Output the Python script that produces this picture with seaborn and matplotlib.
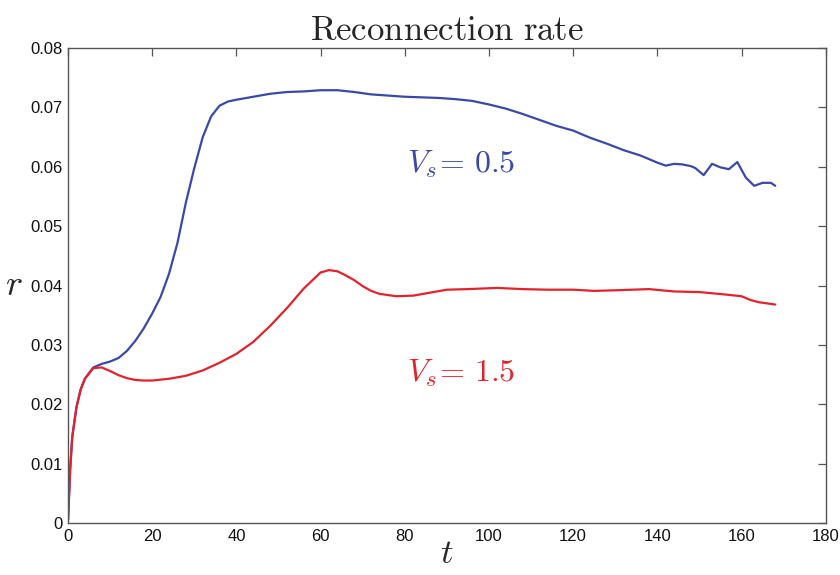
import numpy as np
import pandas as pd
import matplotlib
matplotlib.use("Agg")
import matplotlib.pyplot as plt
import seaborn as sns

# Reconnection rate r(t) for two sound speeds
t_slow = [0, 0.5, 1, 2, 3, 4, 6, 8, 10, 12, 14, 16, 18, 20, 22, 24, 26, 28, 30,
          32, 34, 36, 38, 40, 44, 48, 52, 56, 60, 64, 68, 72, 76, 80, 84, 88,
          92, 96, 100, 104, 108, 112, 116, 120, 124, 128, 132, 136, 140, 142,
          144, 146, 148, 149, 151, 153, 155, 157, 159, 161, 163, 165, 167, 168]
r_slow = [0.0005, 0.009, 0.0145, 0.0195, 0.0225, 0.0243, 0.0262, 0.0268,
          0.0272, 0.0278, 0.0290, 0.0307, 0.0328, 0.0353, 0.0381, 0.0420,
          0.0472, 0.0540, 0.0598, 0.0650, 0.0685, 0.0703, 0.0710, 0.0713,
          0.0718, 0.0723, 0.0726, 0.0727, 0.0729, 0.0729, 0.0726, 0.0722,
          0.0720, 0.0718, 0.0717, 0.0716, 0.0714, 0.0711, 0.0705, 0.0698,
          0.0689, 0.0679, 0.0669, 0.0661, 0.0649, 0.0639, 0.0628, 0.0619,
          0.0607, 0.0602, 0.0605, 0.0604, 0.0601, 0.0598, 0.0586, 0.0605,
          0.0599, 0.0596, 0.0608, 0.0582, 0.0568, 0.0573, 0.0573, 0.0568]

t_fast = [0, 0.5, 1, 2, 3, 4, 6, 8, 10, 12, 14, 16, 18, 20, 24, 28, 32, 36,
          40, 44, 48, 52, 56, 60, 62, 64, 66, 68, 70, 72, 74, 78, 82, 86, 90,
          95, 102, 108, 114, 120, 125, 130, 138, 144, 150, 156, 160, 162, 164,
          168]
r_fast = [0.0005, 0.009, 0.0145, 0.0195, 0.0225, 0.0243, 0.0261, 0.0262,
          0.0256, 0.0249, 0.0244, 0.0241, 0.0240, 0.0240, 0.0243, 0.0248,
          0.0257, 0.0270, 0.0285, 0.0305, 0.0332, 0.0362, 0.0395, 0.0422,
          0.0426, 0.0424, 0.0417, 0.0409, 0.0399, 0.0391, 0.0386, 0.0382,
          0.0383, 0.0388, 0.0393, 0.0394, 0.0396, 0.0394, 0.0393, 0.0393,
          0.0391, 0.0392, 0.0394, 0.0390, 0.0389, 0.0385, 0.0382, 0.0376,
          0.0372, 0.0368]

series_names = ["Vs=0.5", "Vs=1.5"]
series_labels = [r"$V_s\!=\,0.5$", r"$V_s\!=\,1.5$"]
x_ticks = [0, 20, 40, 60, 80, 100, 120, 140, 160, 180]
y_ticks = [0, 0.01, 0.02, 0.03, 0.04, 0.05, 0.06, 0.07, 0.08]

colors = {"Vs=0.5": "#3a48a8", "Vs=1.5": "#e3222c"}

df = pd.concat([
    pd.DataFrame({"t": t_slow, "r": r_slow, "case": series_names[0]}),
    pd.DataFrame({"t": t_fast, "r": r_fast, "case": series_names[1]}),
], ignore_index=True)

sns.set_style("white")
plt.rcParams["mathtext.fontset"] = "cm"
plt.rcParams["font.family"] = ["Liberation Sans", "DejaVu Sans"]

fig = plt.figure(figsize=(8.4, 5.75), dpi=100)
ax = fig.add_axes([0.081, 0.0904, 0.902, 0.826])

sns.lineplot(data=df, x="t", y="r", hue="case", palette=colors,
             linewidth=1.6, legend=False, ax=ax, sort=False)

ax.set_xlim(0, 180)
ax.set_ylim(0, 0.08)
ax.set_xticks(x_ticks)
ax.set_yticks(y_ticks)
ax.set_xticklabels([f"{v:g}" for v in x_ticks])
ax.set_yticklabels([f"{v:.2f}" if v else "0" for v in y_ticks])

for s in ax.spines.values():
    s.set_visible(True)
    s.set_color("#555555")
    s.set_linewidth(1.0)
ax.tick_params(axis="both", direction="in", length=6, width=0.9,
               colors="#555555", labelcolor="#111111", labelsize=12,
               top=True, right=True, pad=4)

ax.set_title(r"$\mathrm{Reconnection\ rate}$", fontsize=25, pad=6)
ax.set_xlabel(r"$t$", fontsize=25, labelpad=-5)
ax.set_ylabel(r"$r$", fontsize=26, rotation=0, labelpad=12, va="center")

ax.text(80.5, 0.0605, series_labels[0], color=colors["Vs=0.5"],
        fontsize=23, ha="left", va="center")
ax.text(80.5, 0.0253, series_labels[1], color=colors["Vs=1.5"],
        fontsize=23, ha="left", va="center")

fig.savefig("out.png", dpi=100)
